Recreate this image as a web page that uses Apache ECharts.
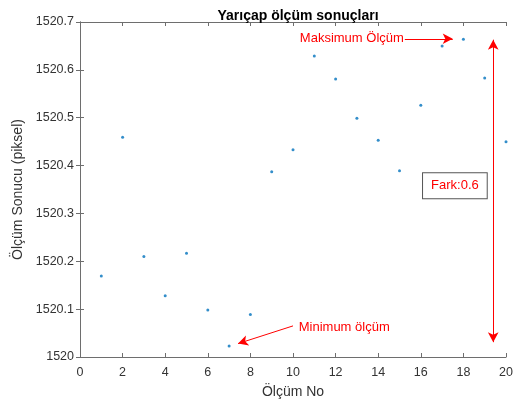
<!DOCTYPE html>
<html>
<head>
<meta charset="utf-8">
<script src="https://cdn.jsdelivr.net/npm/echarts@6/dist/echarts.min.js"></script>
<style>
  html, body { margin: 0; padding: 0; background: #fff; }
  #chart { width: 513px; height: 401px; }
</style>
</head>
<body>
<div id="chart"></div>
<script>
// measurement number and measured radius (pixels)
var olcumNo = [1, 2, 3, 4, 5, 6, 7, 8, 9, 10, 11, 12, 13, 14, 15, 16, 17, 18, 19, 20]
var olcumSonucu = [1520.169, 1520.459, 1520.210, 1520.128, 1520.217, 1520.098, 1520.023, 1520.089,
  1520.387, 1520.433, 1520.629, 1520.581, 1520.499, 1520.453, 1520.389, 1520.526,
  1520.650, 1520.664, 1520.583, 1520.450]

// annotation anchors in data units
var maxArrow = [[15.25, 1520.665], [17.5, 1520.665]]
var minArrow = [[10.0, 1520.065], [7.42, 1520.028]]
var farkArrow = [[19.4, 1520.663], [19.4, 1520.031]]
var farkLabel = [17.6, 1520.358]

var font = 'Liberation Sans, Arial, sans-serif'
var axisGray = '#6e6e6e'
var red = '#ff0000'

var myChart = echarts.init(document.getElementById('chart'))

var tick = { show: true, inside: true, length: 4, lineStyle: { color: axisGray } }

myChart.setOption({
  animation: false,
  title: {
    text: 'Yarıçap ölçüm sonuçları',
    left: 293, top: 4, textAlign: 'center',
    textStyle: { fontFamily: font, fontSize: 14, fontWeight: 'bold', color: '#000' }
  },
  // keep the plot box fixed, labels may sit outside it
  grid: { left: 80, right: 7, top: 22, bottom: 44, containLabel: false, outerBoundsMode: 'none' },
  xAxis: [{
    type: 'value', min: 0, max: 20, interval: 2,
    name: 'Ölçüm No', nameLocation: 'middle', nameGap: 28,
    nameTextStyle: { fontFamily: font, fontSize: 14, color: '#333' },
    axisLine: { lineStyle: { color: axisGray } },
    axisTick: tick,
    axisLabel: { fontFamily: font, fontSize: 12.5, color: '#333', margin: 9 },
    splitLine: { show: false }
  }, {
    type: 'value', min: 0, max: 20, interval: 2, position: 'top',
    axisLine: { show: true, lineStyle: { color: axisGray } },
    axisTick: tick, axisLabel: { show: false }, splitLine: { show: false }
  }],
  yAxis: [{
    type: 'value', min: 1520, max: 1520.7, interval: 0.1,
    name: 'Ölçüm Sonucu (piksel)', nameLocation: 'middle', nameGap: 43,
    nameTextStyle: { fontFamily: font, fontSize: 14, color: '#333' },
    axisLine: { show: true, lineStyle: { color: axisGray } },
    axisTick: tick,
    axisLabel: {
      fontFamily: font, fontSize: 12.5, color: '#333', margin: 6,
      formatter: function (v) { return String(Math.round(v * 10) / 10) }
    },
    splitLine: { show: false }
  }, {
    type: 'value', min: 1520, max: 1520.7, interval: 0.1, position: 'right',
    axisLine: { show: true, lineStyle: { color: axisGray } },
    axisTick: tick, axisLabel: { show: false }, splitLine: { show: false }
  }],
  series: [{
    type: 'scatter',
    clip: false,
    symbol: 'circle',
    symbolSize: 3,
    itemStyle: { color: '#0072BD' },
    data: olcumNo.map(function (n, i) { return [n, olcumSonucu[i]] }),
    markLine: {
      silent: true,
      animation: false,
      precision: 3,
      symbolSize: [8, 10],
      lineStyle: { color: red, width: 1, type: 'solid' },
      label: { fontFamily: font, fontSize: 13, color: red },
      data: [
        [{ coord: maxArrow[0], symbol: 'none',
           label: { show: true, position: 'start', formatter: 'Maksimum Ölçüm', distance: 1 } },
         { coord: maxArrow[1], symbol: 'arrow' }],
        [{ coord: minArrow[0], symbol: 'none',
           label: { show: true, position: 'start', formatter: 'Minimum ölçüm', distance: 6, offset: [0, 3] } },
         { coord: minArrow[1], symbol: 'arrow' }],
        [{ coord: farkArrow[0], symbol: 'arrow', label: { show: false } },
         { coord: farkArrow[1], symbol: 'arrow' }]
      ]
    },
    markPoint: {
      silent: true,
      symbol: 'rect',
      symbolSize: 0,
      data: [{
        coord: farkLabel,
        label: {
          show: true, position: 'inside', formatter: 'Fark:0.6',
          fontFamily: font, fontSize: 13, color: red,
          backgroundColor: '#fff', borderColor: '#555', borderWidth: 1,
          padding: [6, 8, 6, 8]
        }
      }]
    }
  }]
})
</script>
</body>
</html>
